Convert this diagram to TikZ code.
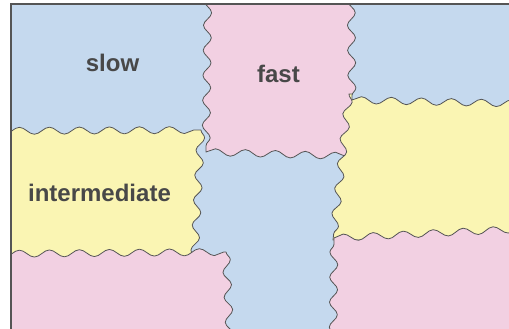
\documentclass[tikz,border=0pt]{standalone}
\usepackage{fontspec}
\setmainfont{Liberation Sans}
\usepackage{tikz}
\usetikzlibrary{decorations.pathmorphing}

\definecolor{pblue}{HTML}{C5D9EE}
\definecolor{ppink}{HTML}{F2D0E2}
\definecolor{pyellow}{HTML}{FAF5B3}
\definecolor{edgegray}{HTML}{555555}
\definecolor{labelgray}{HTML}{484848}

\begin{document}
\begin{tikzpicture}[
    x=1pt, y=-1pt,
    hwave/.style={decoration={snake, segment length=30pt, amplitude=3.5pt}},
    vwave/.style={decoration={snake, segment length=25pt, amplitude=4pt}},
    blob/.style={draw=edgegray, line width=0.8pt, line join=round},
    lbl/.style={font=\fontsize{24}{28}\selectfont\bfseries, text=labelgray,
                anchor=base, inner sep=0pt},
]
  \useasboundingbox (0,0) rectangle (509,329);
  \begin{scope}
    \clip (11,4) rectangle (530,350);
    % background (middle column)
    \fill[pblue] (0,0) rectangle (530,350);
    % intermediate
    \path[blob, fill=pyellow] (-20,131)
      decorate[hwave] {-- (201,130)}
      decorate[vwave] {-- (194,268)} -- (-20,268) -- cycle;
    % bottom left
    \path[blob, fill=ppink] (-20,254)
      decorate[hwave] {-- (226,252)}
      decorate[vwave] {-- (231,360)} -- (-20,360) -- cycle;
    % fast
    \path[blob, fill=ppink] (208,-20)
      decorate[vwave] {-- (206,152)}
      decorate[hwave] {-- (345,156)} -- (368,156) -- (368,-20) -- cycle;
    % right middle
    \path[blob, fill=pyellow] (349,94)
      decorate[vwave] {-- (333,240)} -- (540,240) -- (540,94) -- cycle;
    % top right
    \path[blob, fill=pblue] (351,-20)
      decorate[vwave] {-- (352,100)}
      decorate[hwave] {-- (540,104)} -- (540,-20) -- cycle;
    % bottom right
    \path[blob, fill=ppink] (333,360)
      decorate[vwave] {-- (334,238)}
      decorate[hwave] {-- (540,228)} -- (540,360) -- cycle;
  \end{scope}
  % frame
  \draw[line width=2.2pt, draw=edgegray] (11,350) -- (11,4) -- (530,4);
  % labels
  \node[lbl] (slow) at (112.5,71) {slow};
  \node[lbl] (fast) at (278.5,82) {fast};
  \node[lbl] (inter) at (99.5,201) {intermediate};
\end{tikzpicture}
\end{document}
